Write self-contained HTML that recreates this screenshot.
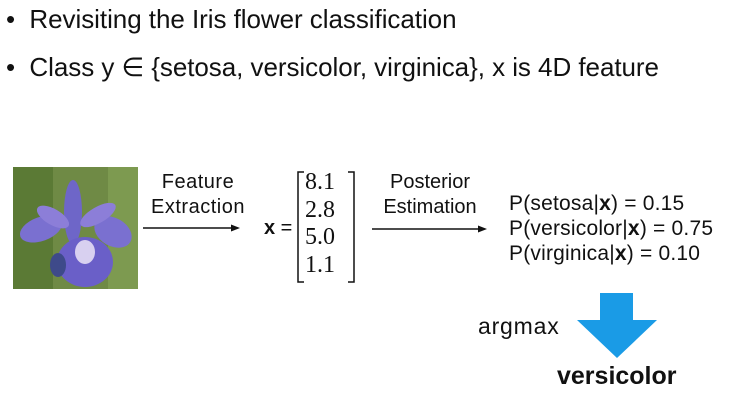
<!DOCTYPE html>
<html><head><style>
body{margin:0;width:743px;height:419px;background:#fff;position:relative;overflow:hidden;font-family:"Liberation Sans",sans-serif;color:#111}
.t{position:absolute;white-space:nowrap}
</style></head><body>
<div class="t" style="left:6px;top:4px;font-size:26px;letter-spacing:-0.05px">•&nbsp; Revisiting the Iris flower classification</div>
<div class="t" style="left:6px;top:52px;font-size:26px;letter-spacing:-0.05px">•&nbsp; Class y ∈ {setosa, versicolor, virginica}, x is 4D feature</div>
<svg style="position:absolute;left:13px;top:167px" width="125" height="122">
<rect width="125" height="122" fill="#6f8a45"/>
<rect x="0" y="0" width="40" height="122" fill="#5b7a35"/>
<rect x="95" y="0" width="30" height="122" fill="#7d9a50"/>
<ellipse cx="60" cy="45" rx="9" ry="32" fill="#6e66c8"/>
<ellipse cx="28" cy="62" rx="22" ry="12" fill="#7a70d0" transform="rotate(-20 28 62)"/>
<ellipse cx="100" cy="65" rx="20" ry="14" fill="#7a70d0" transform="rotate(30 100 65)"/>
<ellipse cx="40" cy="50" rx="18" ry="8" fill="#8c7ed8" transform="rotate(30 40 50)"/>
<ellipse cx="85" cy="48" rx="20" ry="8" fill="#8c7ed8" transform="rotate(-30 85 48)"/>
<ellipse cx="72" cy="95" rx="28" ry="25" fill="#6a5fc8"/>
<ellipse cx="72" cy="85" rx="10" ry="12" fill="#d8d0f0"/>
<ellipse cx="45" cy="98" rx="8" ry="12" fill="#3e4a8a"/>
</svg>
<div class="t" style="left:138px;width:120px;top:170px;font-size:20px;text-align:center;line-height:25px;letter-spacing:0.5px">Feature<br>Extraction</div>
<svg style="position:absolute;left:0;top:0" width="743" height="419">
<line x1="143" y1="228" x2="234" y2="228" stroke="#111" stroke-width="1.5"/><polygon points="240,228 231,224.5 231,231.5" fill="#111"/>
<line x1="372" y1="229" x2="481" y2="229" stroke="#111" stroke-width="1.5"/><polygon points="487,229 478,225.5 478,232.5" fill="#111"/>
<path d="M304,172 H298 V282 H304 M348,172 H354 V282 H348" fill="none" stroke="#111" stroke-width="1.5"/>
<polygon points="600,293 633,293 633,320 657,320 617,358 577,320 600,320" fill="#1a9be6"/>
</svg>
<div class="t" style="left:264px;top:217px;font-size:20px"><b>x</b> =</div>
<div class="t" style="left:305px;top:169px;font-size:24px;line-height:27.5px;font-family:'Liberation Serif',serif">8.1<br>2.8<br>5.0<br>1.1</div>
<div class="t" style="left:368px;width:124px;top:170px;font-size:20px;text-align:center;line-height:25px">Posterior<br>Estimation</div>
<div class="t" style="left:509px;top:191px;font-size:21px;line-height:25px;letter-spacing:0.2px">P(setosa|<b>x</b>) = 0.15<br>P(versicolor|<b>x</b>) = 0.75<br>P(virginica|<b>x</b>) = 0.10</div>
<div class="t" style="left:478px;top:313px;font-size:23px;letter-spacing:0.8px">argmax</div>
<div class="t" style="left:557px;top:362px;font-size:25px;font-weight:bold">versicolor</div>
</body></html>
